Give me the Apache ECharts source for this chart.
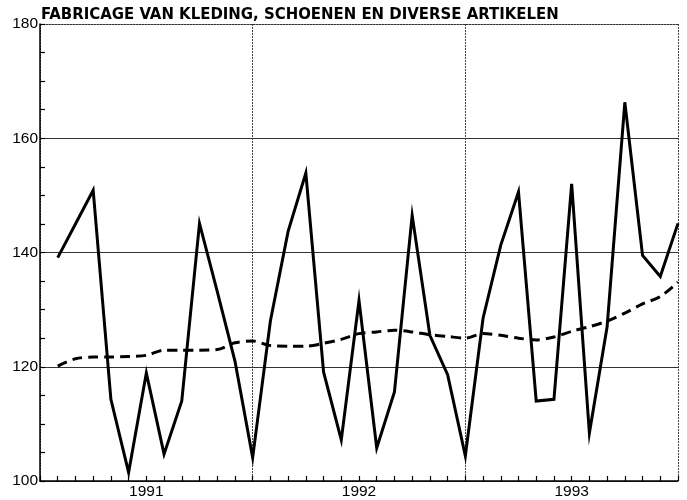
<!DOCTYPE html>
<html>
<head>
<meta charset="utf-8">
<script src="https://cdn.jsdelivr.net/npm/echarts@6/dist/echarts.min.js"></script>
<style>
  html, body { margin: 0; padding: 0; background: #fff; }
  #chart { width: 687px; height: 500px; }
</style>
</head>
<body>
<div id="chart"></div>
<script>
// maandcijfers 1991-1993 (index)
const years = ['1991', '1992', '1993'];
const index = [
  139.1, 145.0, 150.9, 114.3, 101.5, 118.9, 104.7, 114.0, 145.1, 133.2, 121.0, 104.1,
  128.0, 143.7, 153.9, 119.1, 107.2, 131.6, 105.8, 115.6, 146.5, 125.5, 118.6, 104.4,
  128.5, 141.3, 150.6, 114.0, 114.3, 152.0, 108.4, 127.0, 166.3, 139.5, 135.8, 145.1
];
// trend (gestippelde lijn)
const trend = [
  120.1, 121.4, 121.7, 121.7, 121.8, 122.0, 122.9, 122.9, 122.9, 123.0, 124.2, 124.5,
  123.7, 123.6, 123.6, 124.1, 124.8, 125.8, 126.1, 126.4, 126.1, 125.6, 125.3, 125.0,
  125.8, 125.5, 125.0, 124.7, 125.2, 126.2, 127.0, 128.0, 129.4, 131.0, 132.3, 134.8
];
const yTicks = [100, 120, 140, 160, 180];

const chart = echarts.init(document.getElementById('chart'));

const textFont = "'Liberation Sans', Arial, sans-serif";

const option = {
  backgroundColor: '#fff',
  animation: false,
  title: {
    text: 'FABRICAGE VAN KLEDING, SCHOENEN EN DIVERSE ARTIKELEN',
    left: 41,
    top: 6,
    padding: 0,
    textStyle: {
      color: '#000',
      fontFamily: "'DejaVu Sans Condensed', 'Liberation Sans', sans-serif",
      fontWeight: 'bold',
      fontSize: 16.6
    }
  },
  grid: {
    left: 40,
    right: 9,
    top: 24,
    bottom: 19
  },
  xAxis: [
    {
      type: 'value',
      min: 0,
      max: 36,
      interval: 1,
      position: 'bottom',
      axisLine: { lineStyle: { color: '#000', width: 1.5 } },
      axisTick: { inside: true, length: 5, lineStyle: { color: '#000', width: 1.2 } },
      axisLabel: {
        color: '#000',
        fontFamily: textFont,
        fontSize: 15.5,
        margin: 3,
        formatter: v => (v % 12 === 6 ? years[(v - 6) / 12] : '')
      },
      splitLine: { show: false }
    },
    {
      type: 'value',
      min: 0,
      max: 36,
      interval: 12,
      position: 'top',
      axisLine: { lineStyle: { color: '#333', width: 1, type: [2, 1] } },
      axisTick: { show: false },
      axisLabel: { show: false },
      splitLine: { lineStyle: { color: '#444', width: 1, type: [2, 1] } }
    }
  ],
  yAxis: {
    type: 'value',
    min: yTicks[0],
    max: yTicks[yTicks.length - 1],
    interval: 20,
    axisLine: { show: true, lineStyle: { color: '#000', width: 1.5 } },
    axisTick: { show: true, inside: true, length: 5, lineStyle: { color: '#000', width: 1.2 } },
    minorTick: { show: true, splitNumber: 4, length: 5, lineStyle: { color: '#000', width: 1.2 } },
    axisLabel: {
      color: '#000',
      fontFamily: textFont,
      fontSize: 15.5,
      margin: 2
    },
    splitLine: {
      lineStyle: {
        color: ['#333', '#333', '#333', '#333', 'rgba(0,0,0,0)'],
        width: 1
      }
    }
  },
  series: [
    {
      name: 'index',
      type: 'line',
      xAxisIndex: 0,
      data: index.map((v, i) => [i + 1, v]),
      symbol: 'none',
      lineStyle: { color: '#000', width: 3, join: 'miter' },
      z: 5
    },
    {
      name: 'trend',
      type: 'line',
      xAxisIndex: 0,
      data: trend.map((v, i) => [i + 1, v]),
      symbol: 'none',
      smooth: 0.3,
      lineStyle: { color: '#000', width: 3, type: [10, 6] },
      z: 4
    }
  ]
};

chart.setOption(option);
</script>
</body>
</html>
